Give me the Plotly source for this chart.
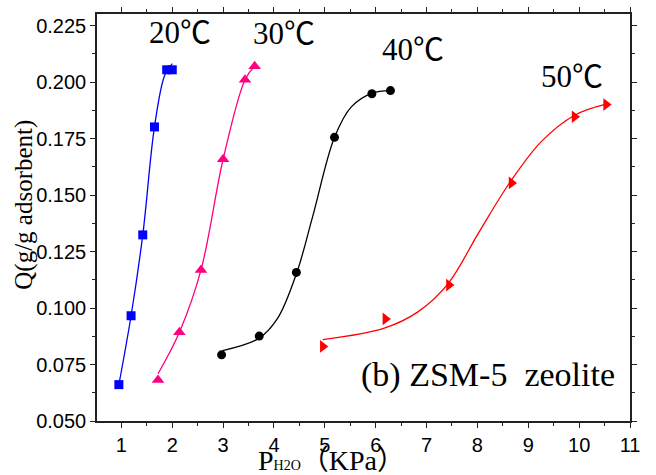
import plotly.graph_objects as go

# ---- measured data (markers) ----
t20_x = [0.95, 1.19, 1.42, 1.65, 1.89, 2.00]
t20_y = [0.0661, 0.0966, 0.1324, 0.1802, 0.2055, 0.2055]
t30_x = [1.72, 2.14, 2.565, 3.00, 3.43, 3.62]
t30_y = [0.0682, 0.0893, 0.1169, 0.1659, 0.2011, 0.2071]
t40_x = [2.97, 3.71, 4.44, 5.19, 5.925, 6.29]
t40_y = [0.0793, 0.0876, 0.1158, 0.1756, 0.1949, 0.1963]
t50_x = [4.96, 6.19, 7.44, 8.67, 9.91, 10.53]
t50_y = [0.0830, 0.0952, 0.1102, 0.1554, 0.1847, 0.1901]

# ---- fitted curves ----
f20_x = [0.95, 1.19, 1.42, 1.65, 1.85, 2.00]
f20_y = [0.0661, 0.0966, 0.1324, 0.1802, 0.2030, 0.2082]
f30_x = [1.72, 2.14, 2.565, 3.00, 3.43, 3.62]
f30_y = [0.0709, 0.0893, 0.1169, 0.1659, 0.2011, 0.2071]
f40_x = [2.99, 3.71, 4.07, 4.45, 4.76, 5.19, 5.52, 5.93, 6.29]
f40_y = [0.0812, 0.0867, 0.0954, 0.1158, 0.1405, 0.1756, 0.1891, 0.1952, 0.1963]
f50_x = [4.96, 6.17, 6.83, 7.42, 8.02, 8.64, 9.26, 9.92, 10.51]
f50_y = [0.0860, 0.0911, 0.0983, 0.1107, 0.1332, 0.1557, 0.1738, 0.1855, 0.1902]

series = [
    ("20℃", t20_x, t20_y, f20_x, f20_y, "#0000FF", "square", 9),
    ("30℃", t30_x, t30_y, f30_x, f30_y, "#FF0080", "triangle-up", 11),
    ("40℃", t40_x, t40_y, f40_x, f40_y, "#000000", "circle", 9),
    ("50℃", t50_x, t50_y, f50_x, f50_y, "#FF0000", "triangle-right", 11),
]

label_x = [2.16, 4.19, 6.74, 9.86]
label_y = [0.2222, 0.2216, 0.2146, 0.2026]

x_ticks = list(range(1, 12))
y_ticks = [0.050, 0.075, 0.100, 0.125, 0.150, 0.175, 0.200, 0.225]

fig = go.Figure()
for name, mx, my, cx, cy, col, sym, sz in series:
    fig.add_trace(go.Scatter(x=cx, y=cy, mode="lines", line=dict(color=col, width=1.3, shape="spline", smoothing=1.0),
                             showlegend=False, hoverinfo="skip"))
    fig.add_trace(go.Scatter(x=mx, y=my, mode="markers", name=name,
                             marker=dict(symbol=sym, size=sz, color=col, line=dict(width=0)),
                             showlegend=False))

serif = "Liberation Serif, Times New Roman, Noto Sans CJK SC, serif"
for (name, *_), lx, ly in zip(series, label_x, label_y):
    fig.add_annotation(x=lx, y=ly, text=name, showarrow=False,
                       font=dict(family=serif, size=31, color="black"))

fig.add_annotation(x=8.2, y=0.0705, text="(b) ZSM-5&nbsp;&nbsp;zeolite", showarrow=False,
                   font=dict(family=serif, size=34, color="black"))

# axis titles
fig.add_annotation(xref="paper", yref="paper", x=(24 - 97) / 533, y=1 - (201 - 7) / 414,
                   xanchor="center", yanchor="middle",
                   text="Q(g/g adsorbent)", textangle=-90, showarrow=False,
                   font=dict(family=serif, size=25, color="black"))
fig.add_annotation(xref="paper", yref="paper", x=(331 - 97) / 533, y=1 - (461 - 7) / 414,
                   xanchor="center", yanchor="middle",
                   text="P<span style='font-size:14px'>H2O</span>（KPa）", showarrow=False,
                   font=dict(family=serif, size=28, color="black"))

axis_common = dict(showgrid=False, zeroline=False, showline=True, linecolor="#222", linewidth=1.5,
                   mirror="ticks", ticks="outside", ticklen=5, tickwidth=1.3, tickcolor="#222",
                   tickfont=dict(family="Liberation Sans, Arial, sans-serif", size=20, color="black"))

fig.update_xaxes(range=[0.52, 11.0], tickvals=x_ticks,
                 minor=dict(ticks="outside", ticklen=3, tickwidth=1.2, tickcolor="#222", dtick=0.5, tick0=0),
                 **axis_common)
fig.update_yaxes(range=[0.05, 0.2302], tickvals=y_ticks, tickformat=".3f",
                 minor=dict(ticks="outside", ticklen=3, tickwidth=1.2, tickcolor="#222", dtick=0.0125, tick0=0),
                 **axis_common)

fig.update_layout(width=656, height=475, margin=dict(l=97, r=26, t=7, b=54),
                  plot_bgcolor="white", paper_bgcolor="white", showlegend=False)

fig.write_html("out.html", config={"displayModeBar": False},
               post_script="document.body.style.margin='0';document.body.style.padding='0';")
